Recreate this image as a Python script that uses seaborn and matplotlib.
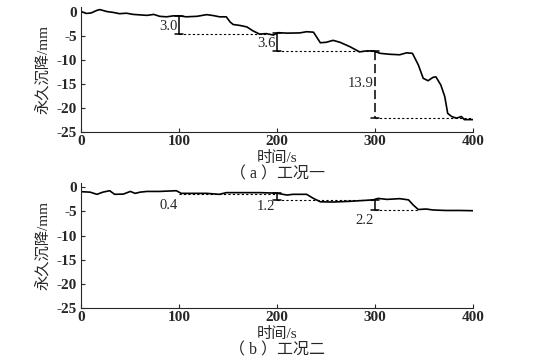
import numpy as np
import pandas as pd
import matplotlib
matplotlib.use("Agg")
import matplotlib.pyplot as plt
import seaborn as sns

# ─────────────────────────────────────────────
# Data
# ─────────────────────────────────────────────
t_a = [0, 5, 10, 16, 19, 26, 33, 39, 46, 53, 60, 67, 74, 80, 87, 94, 100, 107, 118,
       128, 135, 141, 148, 152, 155, 162, 169, 175, 182, 189, 196, 201, 210, 223, 230,
       237, 244, 250, 257, 264, 274, 284, 291, 298, 305, 315, 325, 332, 338, 344, 349,
       354, 359, 362, 367, 371, 374, 378, 383, 388, 391, 400]
y_a = [0.1, -0.3, -0.2, 0.35, 0.5, 0.1, -0.1, -0.35, -0.25, -0.5, -0.6, -0.7, -0.5, -0.9,
       -1.0, -0.8, -0.8, -1.0, -0.9, -0.55, -0.75, -1.0, -1.0, -2.1, -2.6, -2.8, -3.1,
       -3.9, -4.6, -4.5, -4.8, -4.3, -4.4, -4.35, -4.1, -4.2, -6.4, -6.3, -5.9, -6.3,
       -7.2, -8.3, -8.1, -8.1, -8.6, -8.8, -8.9, -8.5, -8.6, -11.0, -13.8, -14.3, -13.6,
       -13.5, -15.2, -17.6, -21.1, -21.75, -22.1, -21.75, -22.4, -22.4]

t_b = [0, 9, 16, 22, 29, 34, 43, 50, 55, 60, 67, 80, 97, 102, 114, 128, 141, 148, 162,
       182, 199, 210, 216, 230, 237, 244, 257, 274, 298, 303, 312, 325, 334, 339, 344,
       352, 359, 372, 386, 400]
y_b = [-0.9, -1.0, -1.45, -1.0, -0.7, -1.45, -1.4, -0.85, -1.25, -1.0, -0.85, -0.85,
       -0.7, -1.25, -1.25, -1.25, -1.45, -1.1, -1.1, -1.1, -1.2, -1.6, -1.45, -1.45,
       -2.3, -3.0, -3.05, -2.9, -2.6, -2.3, -2.5, -2.35, -2.6, -3.7, -4.6, -4.5, -4.7,
       -4.8, -4.8, -4.85]

# settlement increments: time, top, bottom, label, label height, dotted end
ann_t_a     = [100, 200, 300]
ann_top_a   = [-0.9, -4.3, -8.1]
ann_bot_a   = [-4.6, -8.2, -22.0]
ann_lab_a   = ["3.0", "3.6", "13.9"]
ann_ly_a    = [-3.0, -6.5, -14.8]
ann_end_a   = [190, 300, 400]

ann_t_b     = [100, 200, 300]
ann_top_b   = [-1.3, -1.2, -2.6]
ann_bot_b   = [-1.3, -2.6, -4.8]
ann_lab_b   = ["0.4", "1.2", "2.2"]
ann_ly_b    = [-3.7, -4.0, -6.8]
ann_end_b   = [200, 300, 345]

# ─────────────────────────────────────────────
# Style
# ─────────────────────────────────────────────
sns.set_style("ticks")
FAM = ["Liberation Serif", "Noto Sans CJK SC"]
plt.rcParams["font.family"] = FAM
plt.rcParams["axes.unicode_minus"] = False

fig = plt.figure(figsize=(5.42, 3.6), dpi=100)
ax_a = fig.add_axes([0.150, 0.633, 0.723, 0.347])
ax_b = fig.add_axes([0.150, 0.145, 0.723, 0.348])


def draw_panel(ax, t, y, ann_t, ann_top, ann_bot, ann_lab, ann_ly, ann_end, caption, long_dash):
    df = pd.DataFrame({"t": t, "y": y})
    sns.lineplot(data=df, x="t", y="y", ax=ax, color="black", linewidth=1.2)

    for i, (x0, top, bot, lab, ly, xe) in enumerate(zip(ann_t, ann_top, ann_bot, ann_lab, ann_ly, ann_end)):
        if top != bot:
            ls = (0, (6, 2.5)) if (long_dash and i == 2) else "-"
            ax.plot([x0, x0], [top, bot], color="black", linewidth=1.1, linestyle=ls)
            ax.plot([x0 - 4, x0 + 4], [top, top], color="black", linewidth=1.1)
            ax.plot([x0 - 4, x0 + 4], [bot, bot], color="black", linewidth=1.1)
        ax.plot([x0, xe], [bot, bot], color="black", linewidth=0.8, linestyle=(0, (2, 2)))
        ax.text(x0 - 2, ly, lab, ha="right", va="center", fontsize=10.5, family=FAM)

    ax.set_xlim(0, 400)
    ax.set_ylim(-25, 1)
    ax.set_xticks([0, 100, 200, 300, 400])
    ax.set_yticks([0, -5, -10, -15, -20, -25])
    ax.tick_params(direction="in", length=3, width=0.8, labelsize=11)
    ax.tick_params(axis="x", pad=2)
    ax.tick_params(axis="y", pad=3)
    for lbl in ax.get_xticklabels() + ax.get_yticklabels():
        lbl.set_fontweight("bold")
    ax.spines["top"].set_visible(False)
    ax.spines["right"].set_visible(False)
    ax.set_xlabel("时间/s", fontsize=11, family=FAM, va="top")
    ax.xaxis.set_label_coords(0.5, -0.15)
    ax.set_ylabel("永久沉降/mm", fontsize=11, family=FAM)
    ax.yaxis.set_label_coords(-0.08, 0.5)
    ax.text(0.5, -0.34, caption, transform=ax.transAxes, ha="center", va="center",
            fontsize=11.5, family=FAM)


draw_panel(ax_a, t_a, y_a, ann_t_a, ann_top_a, ann_bot_a, ann_lab_a, ann_ly_a, ann_end_a,
           "（ a ）工况一", True)
draw_panel(ax_b, t_b, y_b, ann_t_b, ann_top_b, ann_bot_b, ann_lab_b, ann_ly_b, ann_end_b,
           "（ b ）工况二", False)

plt.savefig("out.png", dpi=100)
